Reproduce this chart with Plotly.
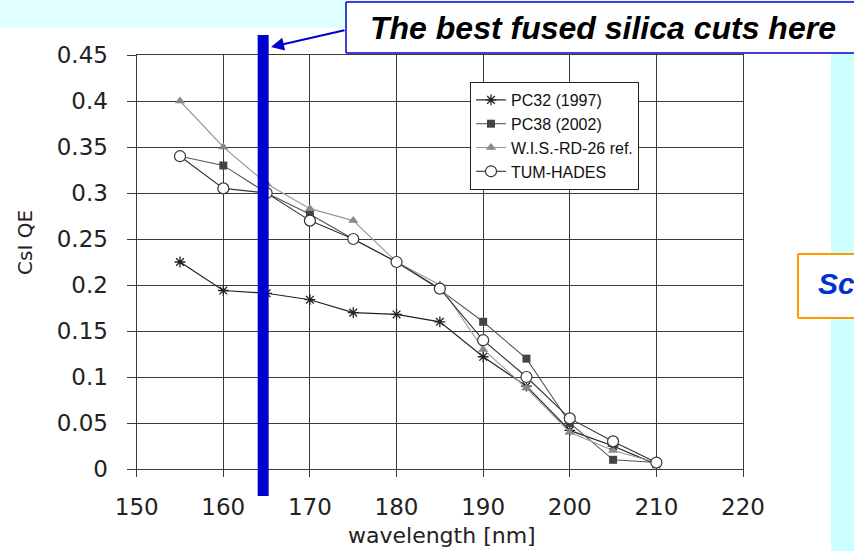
import plotly.graph_objects as go

# ---- data ----
wavelength = [155, 160, 165, 170, 175, 180, 185, 190, 195, 200, 205, 210]
pc32 = [0.225, 0.194, 0.191, 0.184, 0.170, 0.168, 0.160, 0.122, 0.090, 0.042, 0.025, 0.005]
pc38 = [0.340, 0.330, 0.300, 0.277, 0.250, 0.225, 0.195, 0.160, 0.120, 0.050, 0.010, 0.007]
wis = [0.400, 0.350, 0.310, 0.283, 0.270, 0.225, 0.200, 0.130, 0.088, 0.040, 0.020, 0.007]
tum = [0.340, 0.305, 0.300, 0.270, 0.250, 0.225, 0.196, 0.140, 0.100, 0.055, 0.030, 0.007]
series_names = ["PC32 (1997)", "PC38 (2002)", "W.I.S.-RD-26 ref.", "TUM-HADES"]
x_ticks = [150, 160, 170, 180, 190, 200, 210, 220]
y_ticks = [0, 0.05, 0.1, 0.15, 0.2, 0.25, 0.3, 0.35, 0.4, 0.45]
y_ticktext = ["0", "0.05", "0.1", "0.15", "0.2", "0.25", "0.3", "0.35", "0.4", "0.45"]
cut_wavelength = 164.6

W, H = 854, 551
def px(x):
    return x / W
def py(y):
    return 1 - y / H

fig = go.Figure()
fig.add_trace(go.Scatter(x=wavelength, y=pc32, name=series_names[0], mode="lines+markers",
                         line=dict(color="#222222", width=1.2),
                         marker=dict(symbol="asterisk-open", size=9, color="#222222",
                                     line=dict(color="#222222", width=1.3))))
fig.add_trace(go.Scatter(x=wavelength, y=pc38, name=series_names[1], mode="lines+markers",
                         line=dict(color="#555555", width=1.1),
                         marker=dict(symbol="square", size=8, color="#444444")))
fig.add_trace(go.Scatter(x=wavelength, y=wis, name=series_names[2], mode="lines+markers",
                         line=dict(color="#999999", width=1.1),
                         marker=dict(symbol="triangle-up", size=9, color="#888888")))
fig.add_trace(go.Scatter(x=wavelength, y=tum, name=series_names[3], mode="lines+markers",
                         line=dict(color="#333333", width=1.1),
                         marker=dict(symbol="circle", size=11, color="white",
                                     line=dict(color="#333333", width=1.2))))

# side-box text on an invisible full-page overlay axis so it is cut off at the page edge
fig.add_trace(go.Scatter(x=[818], y=[286], mode="text", text=["<b><i>Sc</i></b>"],
                         textposition="middle right", cliponaxis=True, showlegend=False,
                         hoverinfo="skip", xaxis="x2", yaxis="y2",
                         textfont=dict(family="Liberation Sans", size=30, color="#0033CC")))

axis_font = dict(family="DejaVu Sans", size=23, color="#222222")
grid = "#3a3a3a"
fig.update_layout(
    width=W, height=H, margin=dict(l=0, r=0, t=0, b=0, autoexpand=False),
    paper_bgcolor="white", plot_bgcolor="rgba(0,0,0,0)",
    xaxis=dict(domain=[px(136.7), px(743)], range=[150, 220], tickvals=x_ticks,
               showgrid=True, gridcolor=grid, gridwidth=1.3, zeroline=False,
               showline=True, linecolor=grid, linewidth=1.3, mirror=True,
               ticks="outside", ticklen=7, tickcolor=grid, tickwidth=1.3,
               tickfont=axis_font, ticklabelstandoff=10, automargin=False),
    yaxis=dict(domain=[py(469), py(55)], range=[0, 0.45], tickvals=y_ticks, ticktext=y_ticktext,
               showgrid=True, gridcolor=grid, gridwidth=1.3, zeroline=False,
               showline=True, linecolor=grid, linewidth=1.3, mirror=True,
               ticks="outside", ticklen=9, tickcolor=grid, tickwidth=1.3,
               tickfont=axis_font, ticklabelstandoff=14, automargin=False),
    xaxis2=dict(domain=[0, 1], range=[0, W], visible=False, fixedrange=True, anchor="y2",
                automargin=False),
    yaxis2=dict(domain=[0, 1], range=[H, 0], visible=False, fixedrange=True, anchor="x2",
                automargin=False),
    legend=dict(x=px(470), y=py(82), xanchor="left", yanchor="top",
                bgcolor="white", bordercolor="#222222", borderwidth=1,
                font=dict(family="Liberation Sans", size=16, color="#111111"),
                tracegroupgap=0),
    showlegend=True,
)

blue = "#0000CC"
orange = "#FF9900"
shapes = [
    dict(type="rect", xref="paper", yref="paper", x0=0, x1=1, y0=py(28), y1=1,
         fillcolor="#E0FFFF", line=dict(width=0), layer="below"),
    dict(type="rect", xref="paper", yref="paper", x0=px(831), x1=1, y0=0, y1=py(28),
         fillcolor="#CCFFFF", line=dict(width=0), layer="below"),
    dict(type="line", xref="x", yref="paper", x0=cut_wavelength, x1=cut_wavelength,
         y0=py(496), y1=py(35), line=dict(color=blue, width=11), layer="above"),
    # callout box (runs off the right edge)
    dict(type="rect", xref="paper", yref="paper", x0=px(346), x1=1, y0=py(53), y1=py(2),
         fillcolor="white", line=dict(width=0), layer="above"),
    dict(type="line", xref="paper", yref="paper", x0=px(346), x1=1, y0=py(2), y1=py(2),
         line=dict(color=blue, width=1.5), layer="above"),
    dict(type="line", xref="paper", yref="paper", x0=px(346), x1=1, y0=py(53), y1=py(53),
         line=dict(color=blue, width=1.5), layer="above"),
    dict(type="line", xref="paper", yref="paper", x0=px(346), x1=px(346), y0=py(53), y1=py(2),
         line=dict(color=blue, width=1.5), layer="above"),
    # second box (runs off the right edge)
    dict(type="rect", xref="paper", yref="paper", x0=px(798), x1=1, y0=py(318), y1=py(254),
         fillcolor="white", line=dict(width=0), layer="below"),
    dict(type="line", xref="paper", yref="paper", x0=px(798), x1=1, y0=py(254), y1=py(254),
         line=dict(color=orange, width=2), layer="below"),
    dict(type="line", xref="paper", yref="paper", x0=px(798), x1=1, y0=py(318), y1=py(318),
         line=dict(color=orange, width=2), layer="below"),
    dict(type="line", xref="paper", yref="paper", x0=px(798), x1=px(798), y0=py(318), y1=py(254),
         line=dict(color=orange, width=2), layer="below"),
]
fig.update_layout(shapes=shapes)

fig.add_annotation(x=px(368), y=py(28), xref="paper", yref="paper", xanchor="left", yanchor="middle",
                   text="<b><i>The best fused silica cuts here</i></b>", showarrow=False,
                   font=dict(family="Liberation Sans", size=32, color="black"))
fig.add_annotation(x=px(271), y=py(47), xref="paper", yref="paper", text="",
                   showarrow=True, ax=75, ay=-17, arrowhead=2, arrowsize=1.3, arrowwidth=2,
                   arrowcolor=blue, standoff=0)
fig.add_annotation(x=px(442), y=py(535), xref="paper", yref="paper", xanchor="center", yanchor="middle",
                   text="wavelength [nm]", showarrow=False,
                   font=dict(family="DejaVu Sans", size=22, color="#222222"))
fig.add_annotation(x=px(25), y=py(243), xref="paper", yref="paper", xanchor="center", yanchor="middle",
                   text="CsI QE", textangle=-90, showarrow=False,
                   font=dict(family="DejaVu Sans", size=20, color="#222222"))

fig.write_html("out.html", config={"displayModeBar": False})
